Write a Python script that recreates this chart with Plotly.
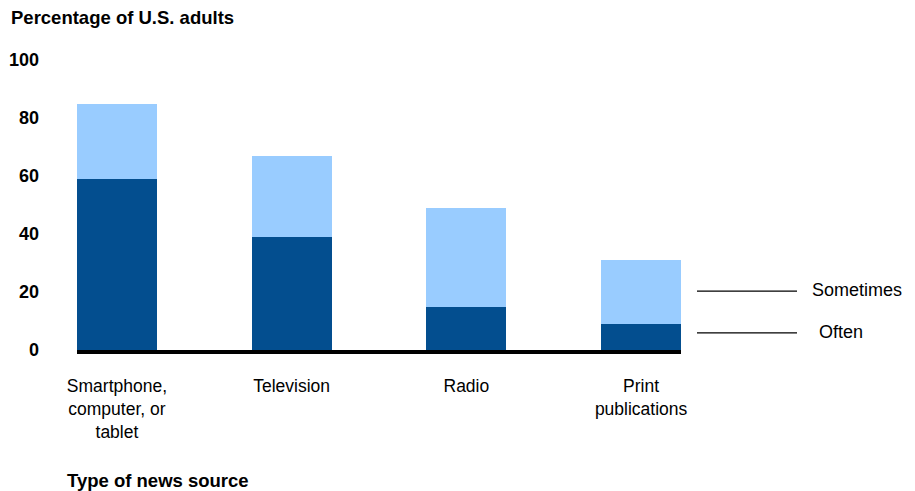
import plotly.graph_objects as go

categories = ["Smartphone,<br>computer, or<br>tablet", "Television", "Radio", "Print<br>publications"]
often = [59, 39, 15, 9]
sometimes = [26, 28, 34, 22]
y_ticks = [0, 20, 40, 60, 80, 100]

DARK = "#034e8f"
LIGHT = "#99ccff"
FONT = "Liberation Sans, Arial, sans-serif"

fig = go.Figure()
fig.add_trace(go.Bar(x=categories, y=often, name="Often", marker=dict(color=DARK, line=dict(width=0))))
fig.add_trace(go.Bar(x=categories, y=sometimes, name="Sometimes", marker=dict(color=LIGHT, line=dict(width=0))))

W, H = 915, 491
L, R, T, B = 69, 242, 52, 149
pw = W - L - R
ph = H - T - B

fig.update_layout(
    width=W, height=H,
    barmode="stack", bargap=0.543,
    showlegend=False,
    plot_bgcolor="white", paper_bgcolor="white",
    margin=dict(l=L, r=R, t=T, b=B, pad=0, autoexpand=False),
    font=dict(family=FONT, color="black"),
    xaxis=dict(
        range=[-0.2285, 3.2285], showgrid=False, zeroline=False, automargin=False,
        showline=True, linecolor="black", linewidth=4,
        ticks="", tickfont=dict(size=17.5, family=FONT), ticklabelstandoff=17,
    ),
    yaxis=dict(
        range=[0, 100], tickvals=y_ticks, showgrid=False, zeroline=False, automargin=False,
        showline=False, ticks="",
        tickfont=dict(size=18, family=FONT, weight="bold"), ticklabelstandoff=37,
    ),
)

fig.add_annotation(text="<b>Percentage of U.S. adults</b>", xref="paper", yref="paper",
                   x=(1 - L) / pw, y=1 + (T - 10) / ph,
                   xanchor="left", yanchor="middle", showarrow=False, font=dict(size=18.5))
fig.add_annotation(text="<b>Type of news source</b>", xref="paper", yref="paper",
                   x=(57 - L) / pw, y=-(472 - (T + ph)) / ph,
                   xanchor="left", yanchor="middle", showarrow=False, font=dict(size=18.5))

for label, yv, xt in [("Sometimes", 20.3, 802), ("Often", 5.9, 809)]:
    fig.add_shape(type="line", xref="paper", yref="y",
                  x0=(689 - L) / pw, x1=(789 - L) / pw, y0=yv, y1=yv,
                  line=dict(color="black", width=1.2))
    fig.add_annotation(text=label, xref="paper", yref="y", x=(xt - L) / pw, y=yv + 0.3,
                       xanchor="left", yanchor="middle", showarrow=False, font=dict(size=18))

fig.write_html("out.html")
